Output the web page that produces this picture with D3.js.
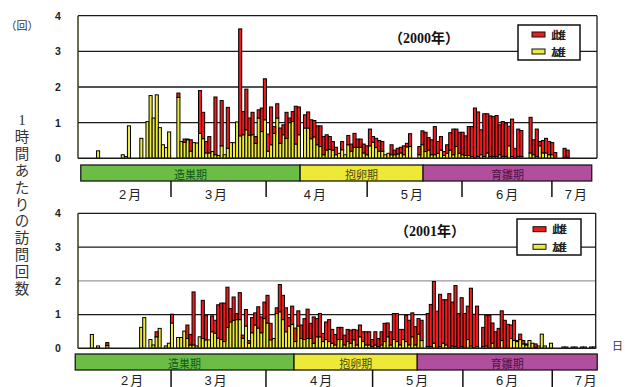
<!DOCTYPE html>
<html>
<head>
<meta charset="utf-8">
<script src="https://cdn.jsdelivr.net/npm/d3@7"></script>
<style>
  body { margin: 0; background: #fff; }
  svg { display: block; font-family: "Liberation Sans", "Noto Sans CJK JP", sans-serif; }
</style>
</head>
<body>
<div id="chart"></div>
<script>
// visits per hour, one value per day slot (168 slots per season)
const male2000 = [
  0, 0, 0, 0, 0, 0, .21, 0, 0, 0,
  0, 0, 0, 0, .1, .05, .91, 0, 0, 0,
  .56, 0, 1.03, 1.76, 1.13, 1.78, .86, .38, .3, .74,
  0, 0, 1.71, .47, .45, .52, .2, .44, .43, .7,
  .55, .15, .15, .19, .1, .08, .35, .1, .28, .44,
  .44, 1.02, .63, .66, .8, .65, .66, .42, 1.13, .75,
  1.08, .2, .38, .7, 1.13, .42, .66, .56, 1.0, 1.03,
  .4, .66, 0, .85, .85, .55, .6, .38, .33, .1,
  .23, .25, .23, .1, .14, .24, .1, .38, .2, .31,
  .31, .31, .15, .1, .35, .45, .3, .2, .2, .1,
  .14, .1, .1, .12, .15, .1, .32, .33, 0, 0,
  .1, .38, .19, .23, .1, .1, .14, .23, .08, .14,
  .23, .1, .33, .14, .1, .08, .08, .05, 0, .05,
  .1, .05, .15, .05, .05, .05, .1, .05, .05, .35,
  .05, 0, .05, .05, 0, 0, .15, .1, .05, .35,
  .15, .15, .1, .1, 0, 0, 0, .02, .03, 0,
  0, 0, 0, 0, 0, 0, 0, 0
];
const female2000 = [
  0, 0, 0, 0, 0, 0, 0, 0, 0, 0,
  0, 0, 0, 0, 0, 0, 0, 0, 0, 0,
  0, 0, 0, 0, 0, 0, 0, 0, 0, 0,
  0, 0, .12, 0, .09, .02, .32, 0, 0, 1.2,
  .74, .32, .46, 0, 1.62, 0, 1.27, 0, 1.15, 0,
  0, 0, 3.0, .65, 1.14, .48, .63, .19, .23, .66,
  1.15, .48, 1.06, .19, .4, .43, .28, .73, .13, .28,
  1.06, .78, 0, .37, .45, .53, .46, .53, .58, .51,
  .43, .36, .24, .21, 0, .23, 0, .26, .2, .39,
  .23, .23, .25, .25, .47, .16, .26, .3, .27, 0,
  0, .28, .13, .16, .16, .25, .1, .36, 0, 0,
  .23, .39, .54, .35, .42, .79, .33, .38, .11, .24,
  .49, .72, .49, .59, .63, .55, .81, .84, 1.41, 1.25,
  .7, 1.2, 1.1, 1.14, 1.12, 1.15, .84, .98, .94, .55,
  1.05, .28, .77, .73, 0, 0, 1.0, .42, .77, .12,
  .35, .41, .37, .34, .16, 0, 0, .26, .2, 0,
  0, 0, 0, 0, 0, 0, 0, 0
];
const male2001 = [
  0, 0, 0, 0, .41, 0, .07, 0, 0, .08,
  0, 0, 0, 0, 0, 0, 0, 0, 0, 0,
  .62, .91, 0, .26, .1, .34, .59, 0, .07, .15,
  .75, 0, .32, .32, .51, .29, .1, .1, .07, .34,
  .29, .25, .25, .49, .45, .3, .26, .2, .62, .78,
  .83, .85, .85, .3, .66, .15, .46, .69, .6, .46,
  .88, .75, .25, .29, 1.03, 1.08, .85, .49, .66, .71,
  .2, .66, .29, .26, .29, .29, .15, .34, .34, .2,
  .26, .2, .15, .1, .26, .26, .1, .2, .15, .25,
  .1, .34, .2, .1, .1, .05, .1, .05, .1, .2,
  .34, .1, .26, .2, .1, .26, .2, .1, .34, .1,
  .42, .23, 0, .05, .05, .15, 0, .05, .15, .1,
  0, .07, .05, 0, .05, 0, .26, .07, 0, .05,
  0, .05, .07, 0, .15, 0, 0, .23, 0, 0,
  .29, .23, .2, .26, .13, .1, .23, .15, .03, .07,
  .42, .07, 0, .15, 0, 0, 0, .04, .04, 0,
  .04, .04, 0, .04, .04, 0, .04, .04
];
const female2001 = [
  0, 0, 0, 0, 0, 0, 0, 0, 0, .09,
  0, 0, 0, 0, 0, 0, 0, 0, 0, 0,
  0, 0, 0, 0, 0, .15, 0, 0, 0, 0,
  .26, 0, 0, 0, 0, .4, .31, 1.57, 0, 0,
  1.13, .73, 0, .47, .38, .99, 1.08, 1.14, 1.19, .4,
  .69, .18, .8, .09, .49, .08, .45, .36, .63, .47,
  .49, .82, .49, 0, .17, .81, .72, .71, .25, .54,
  .4, .45, .4, .62, .87, .45, .78, .54, .69, .24,
  .52, .65, .41, .31, .36, .36, .29, .36, .39, .31,
  .44, .35, .29, .39, .39, .21, .39, .24, .39, .54,
  .41, .39, .77, .83, .46, .3, .78, .73, .71, .54,
  .46, .6, 0, .98, 1.25, 1.83, 1.1, 1.55, 1.29, 1.34,
  1.62, 1.3, 1.81, 1.03, 1.45, 1.03, .99, 1.71, 1.01, 1.2,
  0, .57, .91, .98, .6, .49, .59, .88, .83, .71,
  .4, .6, .03, .16, .1, .03, 0, 0, .1, 0,
  0, 0, 0, 0, 0, 0, 0, 0, 0, 0,
  0, 0, 0, 0, 0, 0, 0, 0
];

const yTicks = [0, 1, 2, 3, 4];
const monthLabels = ['2月', '3月', '4月', '5月', '6月', '7月'];
// month boundaries and label centres, in day slots
const monthTicks2000 = [30.1, 60.9, 93.6, 124.3, 153.4];
const monthLabelAt2000 = [17.2, 45, 77, 108.4, 139.2, 161.5];
const monthTicks2001 = [30.2, 61, 95.6, 124.9, 153.9];
const monthLabelAt2001 = [17.9, 45, 79.2, 110.4, 139.6, 165.1];
const phaseNames = ['造巣期', '抱卵期', '育雛期'];
const phaseBounds2000 = [0.9, 71.9, 111.7, 166.3];
const phaseBounds2001 = [-0.9, 70.1, 110.1, 168.5];
const seriesNames = ['雌', '雄'];
const yTitle = '1時間あたりの訪問回数';

const N = male2000.length;
const phaseFill = ['#6cbd45', '#eee836', '#b24e9e'];
const phaseText = ['#0d5a1c', '#4a4a10', '#4a1248'];
const barFill = { f: '#ee1c1c', m: '#ecea3a' };

const svg = d3.select('#chart').append('svg')
  .attr('width', 625)
  .attr('height', 387);

// y-axis title
svg.append('text')
  .attr('x', 22).attr('y', 30)
  .attr('text-anchor', 'middle')
  .style('font-size', '11px')
  .style('fill', '#333')
  .text('（回）');

svg.selectAll('.ytitle')
  .data(yTitle.split(''))
  .enter().append('text')
  .attr('class', 'ytitle')
  .attr('x', 22)
  .attr('y', (d, i) => 125 + i * 16.9)
  .attr('text-anchor', 'middle')
  .style('font-size', d => d === '1' ? '15px' : '14.5px')
  .style('font-family', d => d === '1' ? '"Liberation Serif", serif' : null)
  .style('fill', '#333')
  .text(d => d);

svg.append('text')
  .attr('x', 612).attr('y', 350)
  .style('font-size', '11px')
  .style('fill', '#333')
  .text('日');

function drawPanel(p) {
  const x = d3.scaleBand().domain(d3.range(N)).range([p.left, p.right]).padding(0);
  const xs = d3.scaleLinear().domain([0, N]).range([p.left, p.right]);
  const y = d3.scaleLinear().domain([0, 4]).range([p.bottom, p.top]);
  const g = svg.append('g');

  // grid lines
  g.selectAll('.grid')
    .data(yTicks.filter(v => v > 0))
    .enter().append('line')
    .attr('x1', p.left).attr('x2', p.right)
    .attr('y1', d => y(d)).attr('y2', d => y(d))
    .attr('stroke', d => (d === 2 && p.grayGrid) ? '#999' : '#1a1a1a')
    .attr('stroke-width', 1.3);

  // stacked bars: male at bottom, female on top
  const rows = p.male.map((m, i) => ({ i: i, m: m, f: p.female[i] }));
  const stacked = d3.stack().keys(['m', 'f'])(rows);
  g.selectAll('.layer')
    .data(stacked)
    .enter().append('g')
    .attr('fill', d => barFill[d.key])
    .selectAll('rect')
    .data(d => d.filter(s => s[1] - s[0] > 0))
    .enter().append('rect')
    .attr('x', d => x(d.data.i))
    .attr('width', x.bandwidth())
    .attr('y', d => y(d[1]))
    .attr('height', d => y(d[0]) - y(d[1]))
    .attr('stroke', '#000')
    .attr('stroke-width', 1);

  // frame
  g.append('line')
    .attr('x1', p.right).attr('x2', p.right)
    .attr('y1', p.top).attr('y2', p.bottom)
    .attr('stroke', '#1a1a1a').attr('stroke-width', 1.3);
  g.append('line')
    .attr('x1', p.left).attr('x2', p.right)
    .attr('y1', p.bottom).attr('y2', p.bottom)
    .attr('stroke', '#1a1a1a').attr('stroke-width', 1.5);
  g.append('line')
    .attr('x1', p.left).attr('x2', p.left)
    .attr('y1', p.top).attr('y2', p.bottom)
    .attr('stroke', '#3a3a20').attr('stroke-width', 1.5);

  // y axis labels
  const yAxis = g.append('g')
    .attr('transform', 'translate(' + p.left + ',0)')
    .call(d3.axisLeft(y).tickValues(yTicks).tickSize(0).tickFormat(d3.format('d')));
  yAxis.select('.domain').remove();
  yAxis.selectAll('text')
    .attr('x', -20)
    .attr('text-anchor', 'middle')
    .style('font-size', '10.5px')
    .style('font-weight', 'bold')
    .style('font-family', '"Liberation Sans", sans-serif')
    .style('fill', '#222');

  // title
  g.append('text')
    .attr('x', p.titleX).attr('y', p.titleY)
    .attr('text-anchor', 'middle')
    .style('font-family', '"Liberation Serif", "Noto Sans CJK JP", serif')
    .style('font-size', '14px')
    .style('font-weight', 'bold')
    .style('fill', '#111')
    .text(p.title);

  // legend
  const lg = g.append('g').attr('transform', 'translate(' + p.legend.x + ',' + p.legend.y + ')');
  lg.append('rect')
    .attr('width', p.legend.w).attr('height', p.legend.h)
    .attr('fill', '#fff').attr('stroke', '#111').attr('stroke-width', 1.5);
  lg.selectAll('.sw')
    .data(seriesNames)
    .enter().append('rect')
    .attr('x', p.legend.sx)
    .attr('y', (d, i) => p.legend.sy + i * p.legend.gap)
    .attr('width', 13).attr('height', 5)
    .attr('fill', (d, i) => i === 0 ? barFill.f : barFill.m)
    .attr('stroke', '#111').attr('stroke-width', 1);
  lg.selectAll('.lt')
    .data(seriesNames)
    .enter().append('text')
    .attr('x', p.legend.sx + 19)
    .attr('y', (d, i) => p.legend.sy + i * p.legend.gap + 6.5)
    .attr('textLength', 15)
    .attr('lengthAdjust', 'spacingAndGlyphs')
    .style('font-size', '10px')
    .style('font-weight', 'bold')
    .style('fill', '#222')
    .text(d => d);

  // breeding phases
  const phases = phaseNames.map((name, i) => ({
    name: name, from: p.phases[i], to: p.phases[i + 1], i: i
  }));
  g.selectAll('.phase')
    .data(phases)
    .enter().append('rect')
    .attr('x', d => xs(d.from))
    .attr('width', d => xs(d.to) - xs(d.from))
    .attr('y', p.phaseY).attr('height', p.phaseH)
    .attr('fill', d => phaseFill[d.i])
    .attr('stroke', '#1a1a1a').attr('stroke-width', 1.3);
  g.selectAll('.phaseLabel')
    .data(phases)
    .enter().append('text')
    .attr('x', d => (xs(d.from) + xs(d.to)) / 2)
    .attr('y', p.phaseY + p.phaseH - 2)
    .attr('text-anchor', 'middle')
    .style('font-size', '11px')
    .style('fill', d => phaseText[d.i])
    .text(d => d.name);

  // month ticks and labels
  g.selectAll('.mtick')
    .data(p.monthTicks)
    .enter().append('line')
    .attr('x1', d => xs(d)).attr('x2', d => xs(d))
    .attr('y1', p.phaseY + p.phaseH).attr('y2', p.tickEnd)
    .attr('stroke', '#111').attr('stroke-width', 1.5);
  g.selectAll('.mlabel')
    .data(monthLabels)
    .enter().append('text')
    .attr('x', (d, i) => xs(p.monthLabelAt[i]))
    .attr('y', p.labelY)
    .attr('text-anchor', 'middle')
    .style('font-size', '13px')
    .style('letter-spacing', '2px')
    .style('fill', '#222')
    .text(d => d);
}

drawPanel({
  male: male2000, female: female2000, title: '（2000年）',
  left: 78, right: 597, top: 15.7, bottom: 158.3,
  titleX: 424, titleY: 42.5,
  legend: { x: 518, y: 25, w: 62, h: 35, sx: 14, sy: 7, gap: 17 },
  phases: phaseBounds2000, phaseY: 165, phaseH: 16, tickEnd: 197,
  monthTicks: monthTicks2000, monthLabelAt: monthLabelAt2000, labelY: 199
});

drawPanel({
  male: male2001, female: female2001, title: '（2001年）', grayGrid: true,
  left: 78, right: 595.7, top: 213.3, bottom: 348.3,
  titleX: 430, titleY: 236,
  legend: { x: 517, y: 219, w: 64, h: 36, sx: 16, sy: 7.7, gap: 17.6 },
  phases: phaseBounds2001, phaseY: 354, phaseH: 16, tickEnd: 388,
  monthTicks: monthTicks2001, monthLabelAt: monthLabelAt2001, labelY: 385
});
</script>
</body>
</html>
